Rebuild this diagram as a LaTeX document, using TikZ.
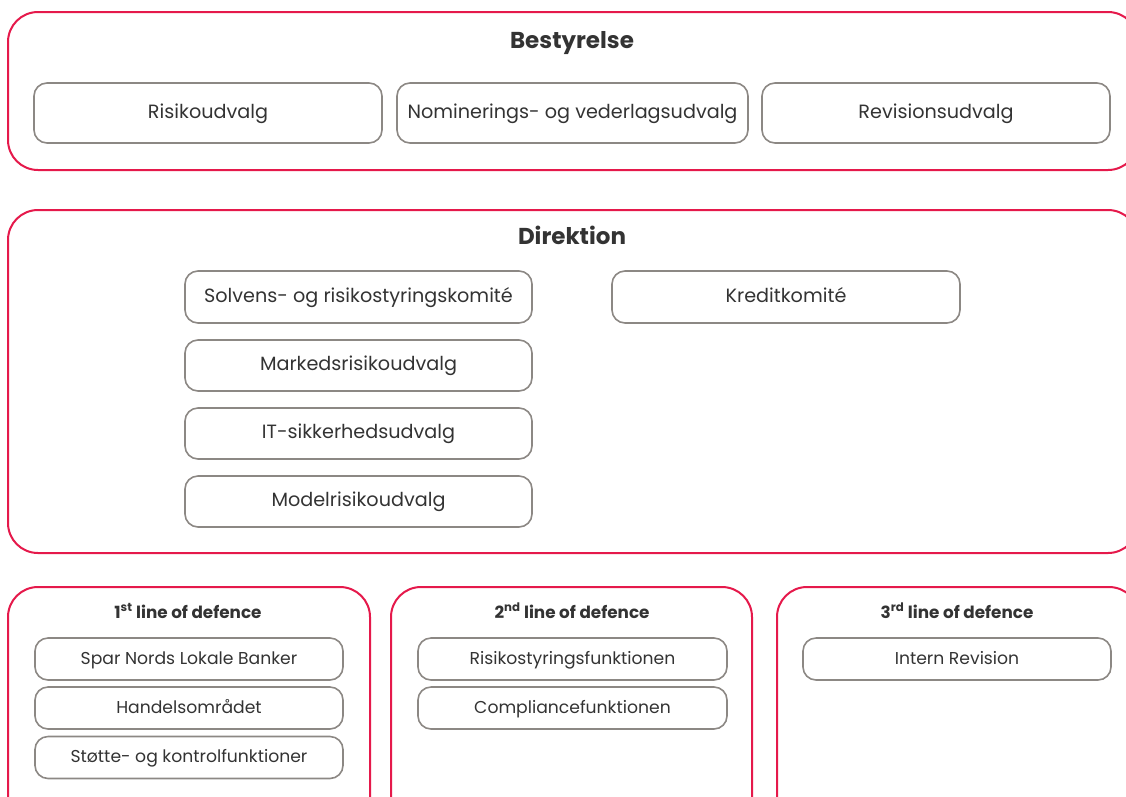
\documentclass[tikz,border=0pt]{standalone}
\usepackage{fontspec}
\setmainfont{Poppins}
\definecolor{redline}{HTML}{E5194B}
\definecolor{grayline}{HTML}{8C8884}
\definecolor{txt}{HTML}{333333}
\begin{document}
\begin{tikzpicture}[x=1pt,y=-1pt,
  base/.style={inner sep=0pt,text=txt,text height=1.1em,text depth=0.08em},
  outerbox/.style={draw=redline,line width=2pt,rounded corners=30pt,inner sep=0pt},
  unit/.style={base,draw=grayline,line width=1.6pt,rounded corners=13pt,font=\fontsize{19.2}{22}\selectfont},
  smallunit/.style={base,draw=grayline,line width=1.6pt,rounded corners=13pt,font=\fontsize{17.2}{20}\selectfont},
  bigtitle/.style={base,font=\fontsize{23}{26}\selectfont\bfseries},
  smalltitle/.style={base,font=\fontsize{16.8}{19}\selectfont\bfseries},
  ]
\useasboundingbox (0,0) rectangle (1126,796);
\clip (0,0) rectangle (1126,796);
% outer boxes
\node[outerbox,minimum width=1130pt,minimum height=158pt] (best) at (573,91) {};
\node[outerbox,minimum width=1130pt,minimum height=343pt] (dir) at (573,381.5) {};
\node[outerbox,minimum width=362pt,minimum height=240pt] (l1) at (189,707) {};
\node[outerbox,minimum width=361pt,minimum height=240pt] (l2) at (571.5,707) {};
\node[outerbox,minimum width=362pt,minimum height=240pt] (l3) at (958,707) {};
% titles
\node[bigtitle] (tbest) at (572,43) {Bestyrelse};
\node[bigtitle] (tdir) at (572,239) {Direktion};
\node[smalltitle] (t1) at (188,613) {1\textsuperscript{st} line of defence};
\node[smalltitle] (t2) at (572,613) {2\textsuperscript{nd} line of defence};
\node[smalltitle] (t3) at (957,613) {3\textsuperscript{rd} line of defence};
% Bestyrelse units
\node[unit,minimum width=348pt,minimum height=60pt] (risiko) at (208,113) {Risikoudvalg};
\node[unit,minimum width=351pt,minimum height=60pt] (nom) at (572.5,113) {Nominerings- og vederlagsudvalg};
\node[unit,minimum width=348pt,minimum height=60pt] (rev) at (936,113) {Revisionsudvalg};
% Direktion units
\node[unit,minimum width=347pt,minimum height=52pt] (solv) at (358.5,297) {Solvens- og risikostyringskomité};
\node[unit,minimum width=348pt,minimum height=52pt] (kredit) at (786,297) {Kreditkomité};
\node[unit,minimum width=347pt,minimum height=51pt] (mark) at (358.5,365.5) {Markedsrisikoudvalg};
\node[unit,minimum width=347pt,minimum height=51pt] (it) at (358.5,433.5) {IT-sikkerhedsudvalg};
\node[unit,minimum width=347pt,minimum height=51pt] (model) at (358.5,501.5) {Modelrisikoudvalg};
% lines of defence units
\node[smallunit,minimum width=308pt,minimum height=42pt] (spar) at (189,659) {Spar Nords Lokale Banker};
\node[smallunit,minimum width=308pt,minimum height=42pt] (handel) at (189,708) {Handelsområdet};
\node[smallunit,minimum width=308pt,minimum height=42pt] (stotte) at (189,757.5) {Støtte- og kontrolfunktioner};
\node[smallunit,minimum width=309pt,minimum height=42pt] (risfun) at (572.5,659) {Risikostyringsfunktionen};
\node[smallunit,minimum width=309pt,minimum height=42pt] (comp) at (572.5,708) {Compliancefunktionen};
\node[smallunit,minimum width=308pt,minimum height=42pt] (intern) at (957,659) {Intern Revision};
\end{tikzpicture}
\end{document}
